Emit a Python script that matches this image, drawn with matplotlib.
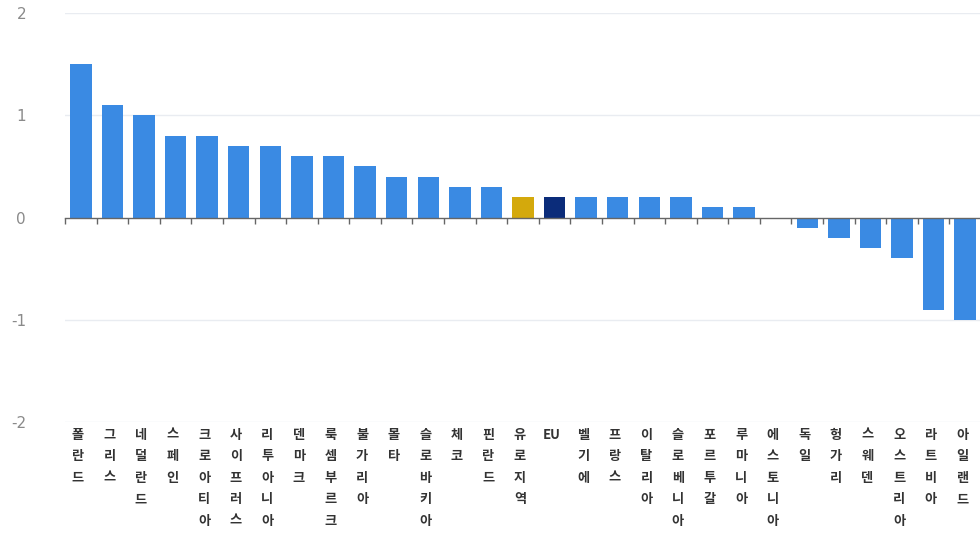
import numpy as np
import matplotlib
matplotlib.use("Agg")
import matplotlib.pyplot as plt

plt.rcParams['font.family'] = ['Noto Sans CJK KR', 'DejaVu Sans']

# 국가별 값 (내림차순)
countries = ["폴란드", "그리스", "네덜란드", "스페인", "크로아티아", "사이프러스",
             "리투아니아", "덴마크", "룩셈부르크", "불가리아", "몰타", "슬로바키아",
             "체코", "핀란드", "유로지역", "EU", "벨기에", "프랑스", "이탈리아",
             "슬로베니아", "포르투갈", "루마니아", "에스토니아", "독일", "헝가리",
             "스웨덴", "오스트리아", "라트비아", "아일랜드"]
values = [1.5, 1.1, 1.0, 0.8, 0.8, 0.7, 0.7, 0.6, 0.6, 0.5, 0.4, 0.4,
          0.3, 0.3, 0.2, 0.2, 0.2, 0.2, 0.2, 0.2, 0.1, 0.1, 0.0, -0.1, -0.2,
          -0.3, -0.4, -0.9, -1.0]
y_ticks = [-2, -1, 0, 1, 2]

blue = "#3a8ae3"
special = {"유로지역": "#d4a90c", "EU": "#0b2c7a"}
colors = [special.get(c, blue) for c in countries]

fig = plt.figure(figsize=(9.8, 5.37), dpi=100)
ax = fig.add_axes([65 / 980, (537 - 422) / 537, 916 / 980, 409 / 537])

x = np.arange(len(countries))
ax.bar(x, values, width=0.68, color=colors, zorder=3)

ax.set_xlim(-0.5, len(countries) - 0.5)
ax.set_ylim(-2, 2)

# 격자선
for v in y_ticks:
    if v != 0:
        ax.axhline(v, color="#e9ecf1", lw=1, zorder=1)

ax.set_yticks(y_ticks)
ax.set_yticklabels([str(v) for v in y_ticks], color="#8a8a8a", fontsize=11,
                   family="DejaVu Sans")
ax.tick_params(axis="y", length=0, pad=28)

# 0 기준선과 구간 눈금
for s in ["top", "right", "left"]:
    ax.spines[s].set_visible(False)
ax.spines["bottom"].set_position(("data", 0))
ax.spines["bottom"].set_color("#666666")
ax.spines["bottom"].set_linewidth(1)
ax.spines["bottom"].set_zorder(4)
ax.set_xticks(np.arange(len(countries) + 1) - 0.5)
ax.set_xticklabels([])
ax.tick_params(axis="x", length=4, width=1, color="#666666", direction="out")

# 세로로 쌓은 국가명
for i, name in enumerate(countries):
    text = name if name == "EU" else "\n".join(name)
    ax.annotate(text, xy=(i, 0), xycoords=("data", "axes fraction"),
                xytext=(-3, -6), textcoords="offset pixels",
                ha="center", va="top", fontsize=9.5, fontweight="bold",
                color="#333333", linespacing=1.68)

fig.savefig("out.png", dpi=100)
